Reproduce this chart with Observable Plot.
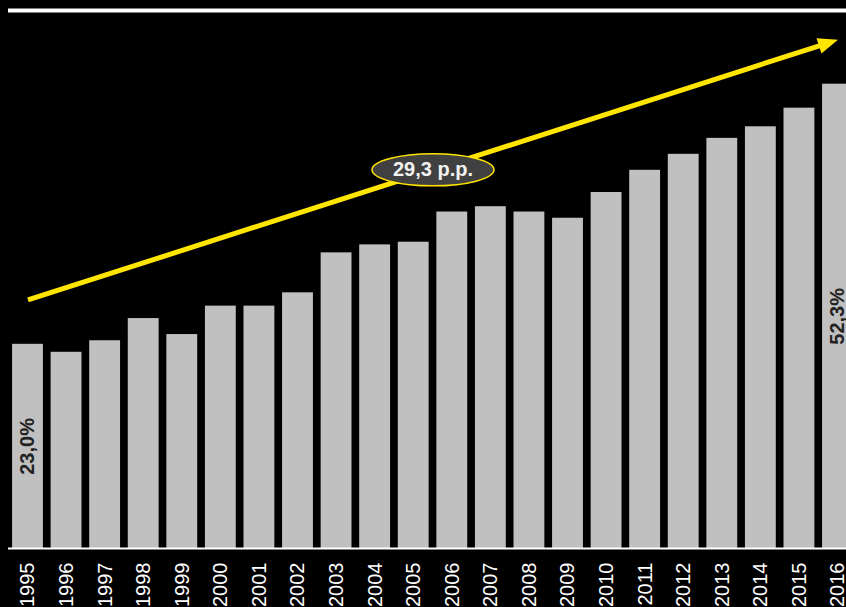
<!DOCTYPE html>
<html>
<head>
<meta charset="utf-8">
<script src="https://cdn.jsdelivr.net/npm/d3@7"></script>
<script src="https://cdn.jsdelivr.net/npm/@observablehq/plot@0.6"></script>
<style>
  html, body { margin: 0; padding: 0; background: #000; }
  #chart svg { display: block; }
</style>
</head>
<body>
<div id="chart"></div>
<script>
// ---- data ----
const years = [1995, 1996, 1997, 1998, 1999, 2000, 2001, 2002, 2003, 2004, 2005,
               2006, 2007, 2008, 2009, 2010, 2011, 2012, 2013, 2014, 2015, 2016];
const shares = [23.0, 22.1, 23.4, 25.9, 24.1, 27.3, 27.3, 28.8, 33.3, 34.2, 34.5,
                37.9, 38.5, 37.9, 37.2, 40.1, 42.6, 44.4, 46.2, 47.5, 49.6, 52.3];
const labelYears = [1995, 2016];
const labelTexts = ["23,0%", "52,3%"];
const trendStartValue = 28.0;   // arrow start (value units)
const trendChange = 29.3;       // p.p.
const trendText = "29,3 p.p.";

// ---- layout ----
const W = 846, H = 607;
const mTop = 10, mBottom = 59, mLeft = 8, mRight = 0;
const xDomain = [1994.5, 2016.5], xRange = [8.2, 856.8];
const yDomain = [0, 60.6];
const yellow = "#FFE500";
const font = "'Liberation Sans', Arial, sans-serif";

const bars = years.map((y, i) => ({year: y, value: shares[i]}));
const valueLabels = labelYears.map((y, i) => ({year: y, value: shares[years.indexOf(y)], text: labelTexts[i]}));
const trend = [{x1: years[0], y1: trendStartValue, x2: years[years.length - 1], y2: trendStartValue + trendChange}];
const trendMid = [{x: (trend[0].x1 + trend[0].x2) / 2, y: (trend[0].y1 + trend[0].y2) / 2, text: trendText}];
const trendEnd = [{x: trend[0].x2, y: trend[0].y2}];

// pixel angle of the trend arrow (same mapping as Plot's scales)
const xs = d3.scaleLinear(xDomain, xRange);
const ys = d3.scaleLinear(yDomain, [H - mBottom, mTop]);
const ang = Math.atan2(ys(trend[0].y2) - ys(trend[0].y1), xs(trend[0].x2) - xs(trend[0].x1));

const headSymbol = {
  draw(ctx) {
    const L = 20, hw = 8;
    const ux = Math.cos(ang), uy = Math.sin(ang);
    const nx = -uy, ny = ux;
    ctx.moveTo(0, 0);
    ctx.lineTo(-L * ux + hw * nx, -L * uy + hw * ny);
    ctx.lineTo(-L * ux - hw * nx, -L * uy - hw * ny);
    ctx.closePath();
  }
};

const ellipseSymbol = {
  draw(ctx) {
    const rx = 61, ry = 16, k = 0.5523;
    ctx.moveTo(rx, 0);
    ctx.bezierCurveTo(rx, ry * k, rx * k, ry, 0, ry);
    ctx.bezierCurveTo(-rx * k, ry, -rx, ry * k, -rx, 0);
    ctx.bezierCurveTo(-rx, -ry * k, -rx * k, -ry, 0, -ry);
    ctx.bezierCurveTo(rx * k, -ry, rx, -ry * k, rx, 0);
    ctx.closePath();
  }
};

const plot = Plot.plot({
  width: W,
  height: H,
  marginTop: mTop,
  marginBottom: mBottom,
  marginLeft: mLeft,
  marginRight: mRight,
  style: {background: "#000", fontFamily: font, overflow: "hidden"},
  x: {domain: xDomain, range: xRange, axis: null},
  y: {domain: yDomain, axis: null},
  marks: [
    Plot.rectY(bars, {x1: d => d.year - 0.4, x2: d => d.year + 0.4, y1: 0, y2: "value", fill: "#C0C0C0"}),
    Plot.ruleY([yDomain[1]], {stroke: "#fff", strokeWidth: 4}),
    Plot.ruleY([0], {stroke: "#fff", strokeWidth: 2}),
    Plot.arrow(trend, {x1: "x1", y1: "y1", x2: "x2", y2: "y2", stroke: yellow, strokeWidth: 5,
      headLength: 0, insetEnd: 14, strokeLinecap: "butt"}),
    Plot.dot(trendEnd, {x: "x", y: "y", symbol: headSymbol, r: 1, fill: yellow, stroke: "none"}),
    Plot.dot(trendMid, {x: "x", y: "y", symbol: ellipseSymbol, r: 1, fill: "#404040", stroke: yellow, strokeWidth: 1.5}),
    Plot.text(trendMid, {x: "x", y: "y", text: "text", fill: "#F2F2F2", fontSize: 20, fontWeight: "bold"}),
    Plot.text(valueLabels, {x: "year", y: d => d.value / 2, text: "text", rotate: -90, fontSize: 20,
      fontWeight: "bold", fill: "#222", textAnchor: "middle", lineAnchor: "middle"}),
    Plot.text(years, {x: d => d, y: () => 0, text: d => String(d), rotate: -90, textAnchor: "end",
      lineAnchor: "middle", dy: 14, fill: "#fff", fontSize: 20})
  ]
});
document.getElementById("chart").appendChild(plot);
</script>
</body>
</html>
